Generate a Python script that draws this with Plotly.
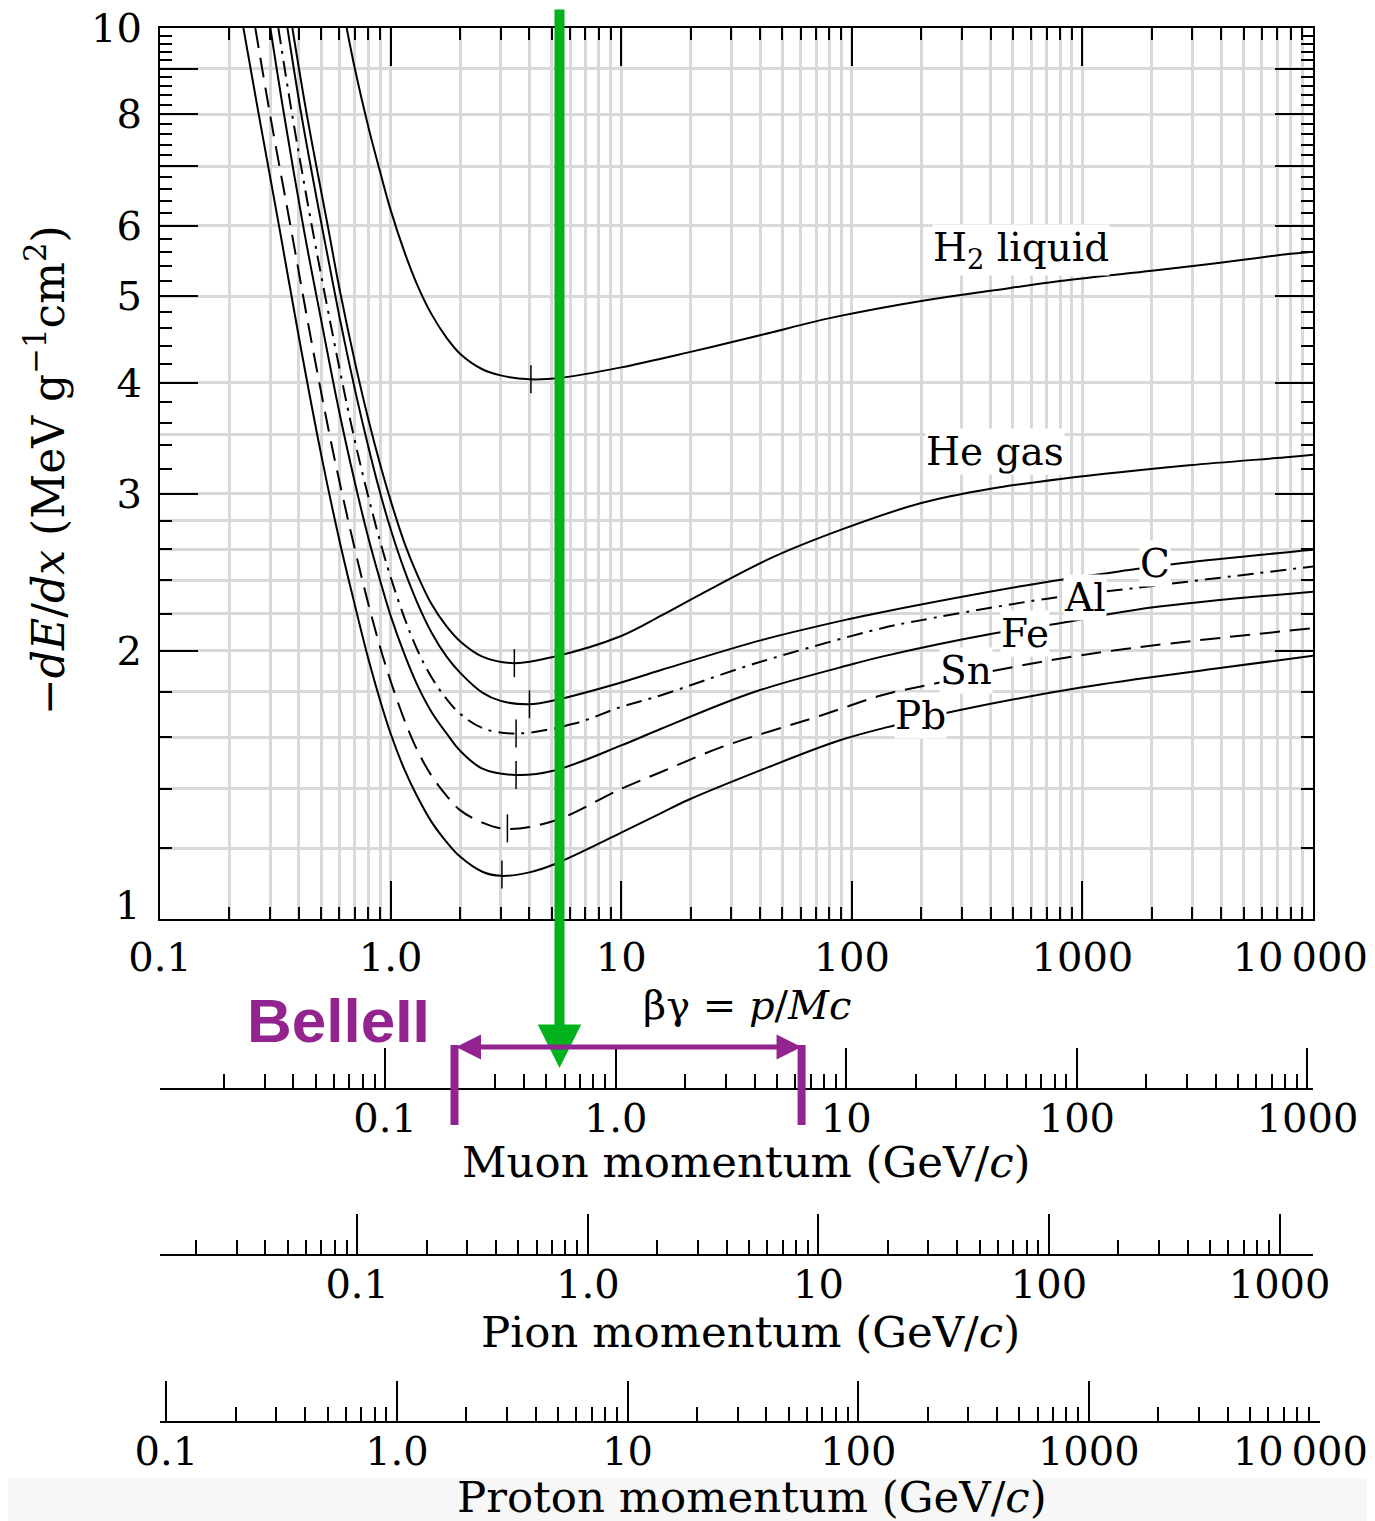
import math
import plotly.graph_objects as go

# ---------------- data ----------------
# beta*gamma values and stopping power -dE/dx (MeV g^-1 cm^2)
bg_h2 = [0.645, 0.7, 0.8, 0.9, 1.0, 1.15, 1.3, 1.5, 1.75, 2.0, 2.5, 3.0, 4.0, 5.5, 10, 20, 40, 85, 200, 400, 800, 2000, 3500, 7500, 10000]
dedx_h2 = [10, 9.0, 7.75, 6.9, 6.25, 5.6, 5.16, 4.78, 4.49, 4.31, 4.14, 4.075, 4.034, 4.05, 4.16, 4.33, 4.52, 4.74, 4.94, 5.07, 5.20, 5.34, 5.43, 5.57, 5.61]

bg_he = [0.375, 0.433, 0.537, 0.6, 0.7, 0.8, 0.9, 1.0, 1.15, 1.3, 1.5, 1.75, 2.0, 2.5, 3.44, 5.13, 10, 14.9, 22.3, 45, 90, 200, 400, 820, 2900, 7900, 10000]
dedx_he = [10, 8.0, 5.95, 5.1, 4.22, 3.64, 3.24, 2.95, 2.64, 2.44, 2.26, 2.13, 2.05, 1.97, 1.937, 1.97, 2.078, 2.19, 2.317, 2.544, 2.735, 2.93, 3.04, 3.12, 3.23, 3.30, 3.32]

bg_c = [0.357, 0.41, 0.506, 0.6, 0.7, 0.8, 0.9, 1.0, 1.15, 1.3, 1.5, 1.75, 2.0, 2.5, 3.0, 4.0, 5.13, 9.67, 14.9, 40.6, 96.7, 135, 670, 1706, 2723, 10000]
dedx_c = [10, 8.0, 5.95, 4.74, 3.93, 3.39, 3.01, 2.74, 2.46, 2.27, 2.1, 1.97, 1.89, 1.795, 1.757, 1.742, 1.76, 1.838, 1.903, 2.056, 2.17, 2.21, 2.385, 2.47, 2.51, 2.597]

bg_al = [0.326, 0.374, 0.458, 0.6, 0.7, 0.8, 0.9, 1.0, 1.15, 1.3, 1.5, 1.75, 2.0, 2.5, 3.5, 6.27, 10, 14.9, 38, 135, 201, 716, 1650, 10000]
dedx_al = [10, 8.0, 5.95, 4.15, 3.44, 2.98, 2.655, 2.42, 2.175, 2.01, 1.87, 1.765, 1.70, 1.638, 1.615, 1.657, 1.73, 1.783, 1.935, 2.12, 2.165, 2.29, 2.35, 2.487]

bg_fe = [0.301, 0.345, 0.42, 0.5, 0.6, 0.7, 0.8, 0.9, 1.0, 1.15, 1.3, 1.5, 1.75, 2.0, 2.5, 3.5, 5.13, 10, 14.9, 38, 103, 135, 406, 819, 1950, 10000]
dedx_fe = [10, 8.0, 5.95, 4.7, 3.70, 3.09, 2.68, 2.40, 2.19, 1.98, 1.835, 1.71, 1.615, 1.545, 1.475, 1.451, 1.468, 1.566, 1.635, 1.799, 1.935, 1.97, 2.09, 2.15, 2.235, 2.33]

bg_sn = [0.259, 0.30, 0.37, 0.45, 0.565, 0.7, 0.8, 0.9, 1.0, 1.15, 1.3, 1.5, 1.75, 2.0, 2.5, 3.2, 5.13, 10, 14.9, 27.2, 74.1, 135, 230, 497, 1396, 10000]
dedx_sn = [10, 8.0, 5.95, 4.5, 3.33, 2.6, 2.26, 2.02, 1.85, 1.67, 1.55, 1.45, 1.375, 1.325, 1.283, 1.262, 1.289, 1.40, 1.462, 1.559, 1.693, 1.783, 1.838, 1.917, 2.003, 2.12]

bg_pb = [0.23, 0.268, 0.33, 0.4, 0.5, 0.6, 0.7, 0.8, 0.9, 1.0, 1.15, 1.3, 1.5, 1.75, 2.0, 2.5, 3.0, 4.0, 5.13, 10, 14.9, 19.5, 40.6, 87.5, 154, 291, 1000, 3800, 10000]
dedx_pb = [10, 8.0, 5.95, 4.5, 3.32, 2.66, 2.25, 1.96, 1.76, 1.615, 1.47, 1.375, 1.287, 1.22, 1.175, 1.13, 1.118, 1.128, 1.152, 1.25, 1.315, 1.36, 1.47, 1.585, 1.65, 1.715, 1.82, 1.91, 1.975]

# minimum-ionization marks
min_bg = [4.06, 3.44, 4.0, 3.5, 3.5, 3.21, 3.04]
min_dedx = [4.034, 1.937, 1.742, 1.615, 1.451, 1.264, 1.122]

# curve labels
label_text = ["H<sub>2</sub> liquid", "He gas", "C", "Al", "Fe", "Sn", "Pb"]
label_bg = [542, 418, 2065, 1026, 564, 313, 198]
label_dedx = [5.63, 3.344, 2.509, 2.293, 2.094, 1.903, 1.69]

# axes ticks
x_tickvals = [0.1, 1, 10, 100, 1000, 10000]
x_ticktext = ["0.1", "1.0", "10", "100", "1000", "10\u2009000\u00a0\u00a0"]
y_tickvals = [1, 2, 3, 4, 5, 6, 7, 8, 9, 10]
y_ticktext = ["", "2", "3", "4", "5", "6", "", "8", "", "10"]
y_minor = [round(d + f, 1) for d in range(1, 10) for f in (0.2, 0.4, 0.6, 0.8)]
y_grid = [1.2, 1.4, 1.6, 1.8, 2.0, 2.2, 2.4, 2.6, 2.8, 3.0, 3.5, 4, 5, 6, 7, 8, 9]

mom_tickvals = [0.1, 1, 10, 100, 1000]
mom_ticktext = ["0.1", "1.0", "10", "100", "1000"]
prot_tickvals = [0.1, 1, 10, 100, 1000, 10000]
prot_ticktext = ["0.1", "1.0", "10", "100", "1000", "10\u2009000\u00a0\u00a0\u00a0"]

mass_muon = 0.10566   # GeV/c^2
mass_pion = 0.13957
mass_proton = 0.93827

belle_mu_p = [0.2, 6.4]     # muon momentum range (GeV/c)
marker_bg = 5.4             # green marker in beta*gamma

# ---------------- styling / geometry ----------------
OFF = 8                      # page body margin
W, H = 1375 - OFF, 1521 - OFF
ML, MR, MT, MB = 160 - OFF, 55, 28 - OFF, 21
PW = W - ML - MR
PH = H - MT - MB
def py(pix):  # reference pixel row -> paper fraction
    return (MT + OFF + PH - pix) / PH
def px(pix):
    return (pix - ML - OFF) / PW

d1 = (1313 - ML - OFF) / PW
ydom0 = py(919)
SERIF = "DejaVu Serif, Liberation Serif, serif"
GRID = "#d9d9d9"
GREEN = "#00b21e"
PURPLE = "#93238e"
TICKF = dict(family=SERIF, size=40, color="black")

decade_minor = [m * 10.0 ** e for e in range(-3, 5) for m in range(2, 10)]

fig = go.Figure()
series = [
    (bg_h2, dedx_h2, "solid"),
    (bg_he, dedx_he, "solid"),
    (bg_c, dedx_c, "solid"),
    (bg_al, dedx_al, "16px,7px,3px,7px"),
    (bg_fe, dedx_fe, "solid"),
    (bg_sn, dedx_sn, "20px,10px"),
    (bg_pb, dedx_pb, "solid"),
]
for xs, ys, dash in series:
    fig.add_trace(go.Scatter(x=xs, y=ys, mode="lines",
                             line=dict(color="black", width=2, dash=dash, shape="spline", smoothing=1.0),
                             showlegend=False, hoverinfo="skip"))
fig.add_trace(go.Scatter(x=min_bg, y=min_dedx, mode="markers",
                         marker=dict(symbol="line-ns", size=20, color="black",
                                     line=dict(color="black", width=1.5)),
                         showlegend=False, hoverinfo="skip"))
# carriers for the extra axes
for axid in ["x2", "x3", "x4"]:
    fig.add_trace(go.Scatter(x=[1], y=[None], xaxis=axid, yaxis="y", mode="lines",
                             showlegend=False, hoverinfo="skip"))
fig.add_trace(go.Scatter(x=[1], y=[None], xaxis="x", yaxis="y2", mode="lines",
                         showlegend=False, hoverinfo="skip"))

def mom_axis(mass, pos, tv, tt, dom, span_dec):
    lo = math.log10(0.1 * mass)
    return dict(type="log", anchor="free", position=pos, domain=dom,
                range=[lo, lo + span_dec], automargin=False,
                tickvals=tv, ticktext=tt, ticks="inside", ticklen=40, tickwidth=2,
                tickcolor="black", showline=True, linewidth=2, linecolor="black",
                showgrid=False, zeroline=False, tickfont=TICKF, ticklabelstandoff=-6,
                ticklabeloverflow="allow",
                minor=dict(tickvals=decade_minor, ticks="inside", ticklen=14,
                           tickwidth=1.5, tickcolor="black", showgrid=False))

fig.update_layout(
    template="none",
    width=W, height=H,
    margin=dict(l=ML, r=MR, t=MT, b=MB, autoexpand=False),
    paper_bgcolor="white", plot_bgcolor="rgba(0,0,0,0)",
    showlegend=False,
    xaxis=dict(type="log", range=[-1, 4], domain=[0, d1], anchor="y", automargin=False,
               tickvals=x_tickvals, ticktext=x_ticktext,
               ticks="inside", ticklen=38, tickwidth=2, tickcolor="black",
               showline=True, linewidth=2, linecolor="black", mirror="ticks",
               showgrid=True, gridcolor=GRID, gridwidth=3, zeroline=False,
               tickfont=TICKF, ticklabelstandoff=2, ticklabeloverflow="allow",
               minor=dict(tickvals=decade_minor, ticks="inside", ticklen=12, tickwidth=1.5,
                          tickcolor="black", showgrid=True, gridcolor=GRID, gridwidth=3)),
    yaxis=dict(type="log", range=[0, 1], domain=[ydom0, 1], anchor="x", automargin=False,
               tickvals=y_tickvals, ticktext=y_ticktext,
               ticks="inside", ticklen=38, tickwidth=2, tickcolor="black",
               showline=True, linewidth=2, linecolor="black", mirror="ticks",
               showgrid=False, zeroline=False, tickfont=TICKF, ticklabelstandoff=8,
               ticklabeloverflow="allow",
               minor=dict(tickvals=y_minor, ticks="inside", ticklen=12, tickwidth=1.5,
                          tickcolor="black", showgrid=False)),
    yaxis2=dict(type="log", range=[0, 1], overlaying="y", anchor="x", side="right",
                automargin=False, tickvals=y_grid, showticklabels=False, ticks="",
                showgrid=True, gridcolor=GRID, gridwidth=3, showline=False, zeroline=False),
    xaxis2=mom_axis(mass_muon, py(1089), mom_tickvals, mom_ticktext, [0, d1], 5),
    xaxis3=mom_axis(mass_pion, py(1255), mom_tickvals, mom_ticktext, [0, d1], 5),
    xaxis4=mom_axis(mass_proton, py(1422), prot_tickvals, prot_ticktext, [0, 1], 5 / d1),
)

ann = []
for t, bx, by in zip(label_text, label_bg, label_dedx):
    ann.append(dict(x=math.log10(bx), y=math.log10(by), xref="x", yref="y", text=t,
                    showarrow=False, bgcolor="white", borderpad=0,
                    font=dict(family=SERIF, size=39, color="black"),
                    xanchor="center", yanchor="middle"))
# tick label "1" (raised, as in the reference)
ann.append(dict(x=px(142), y=0, xref="paper", yref="y", text="1", showarrow=False,
                xanchor="right", yanchor="middle", yshift=14, font=TICKF))
# axis titles
ann.append(dict(x=px(45), y=py(470), xref="paper", yref="paper",
                text="\u2212<i>dE</i>/<i>dx</i> (MeV g<sup>\u22121</sup>cm<sup>2</sup>)",
                textangle=-90, showarrow=False, font=dict(family=SERIF, size=44, color="black"),
                xanchor="center", yanchor="middle"))
ann.append(dict(x=px(747), y=py(1005), xref="paper", yref="paper",
                text="\u03b2\u03b3 = <i>p</i>/<i>Mc</i>", showarrow=False,
                font=dict(family=SERIF, size=40, color="black")))
for title, yy, xx in [("Muon momentum (GeV/<i>c</i>)", 1162, 746),
                      ("Pion momentum (GeV/<i>c</i>)", 1332, 750),
                      ("Proton momentum (GeV/<i>c</i>)", 1497, 752)]:
    ann.append(dict(x=px(xx), y=py(yy), xref="paper", yref="paper", text=title,
                    showarrow=False, font=dict(family=SERIF, size=43.5, color="black"),
                    xanchor="center", yanchor="middle"))
# BelleII
ann.append(dict(x=px(338), y=py(1020), xref="paper", yref="paper", text="<b>BelleII</b>",
                showarrow=False, font=dict(family="Liberation Sans, Arial, sans-serif", size=62, color=PURPLE),
                xanchor="center", yanchor="middle"))
# green arrow
ann.append(dict(x=math.log10(marker_bg), xref="x", y=py(1068), yref="paper", text="",
                showarrow=True, ax=0, ay=-1090, axref="pixel", ayref="pixel",
                arrowhead=2, arrowwidth=10, arrowsize=0.87, arrowcolor=GREEN, standoff=0))
# purple double arrow (muon momentum range)
ann.append(dict(x=math.log10(belle_mu_p[1]), xref="x2", y=py(1047), yref="paper", text="",
                showarrow=True, ax=math.log10(belle_mu_p[0]), axref="x2", ay=0, ayref="pixel",
                arrowside="end+start", arrowhead=2, startarrowhead=2,
                arrowwidth=5, arrowsize=1.0, startarrowsize=1.0, arrowcolor=PURPLE,
                standoff=0, startstandoff=0))
fig.update_layout(annotations=ann)

shapes = []
for p in belle_mu_p:
    shapes.append(dict(type="line", xref="x2", yref="paper", x0=p, x1=p,
                       y0=py(1125), y1=py(1045), line=dict(color=PURPLE, width=8)))
shapes.append(dict(type="rect", xref="paper", yref="paper", x0=px(0), x1=px(1375),
                   y0=py(1530), y1=py(1478), fillcolor="#f7f7f7", line=dict(width=0), layer="below"))
fig.update_layout(shapes=shapes)

fig.write_html("out.html")
